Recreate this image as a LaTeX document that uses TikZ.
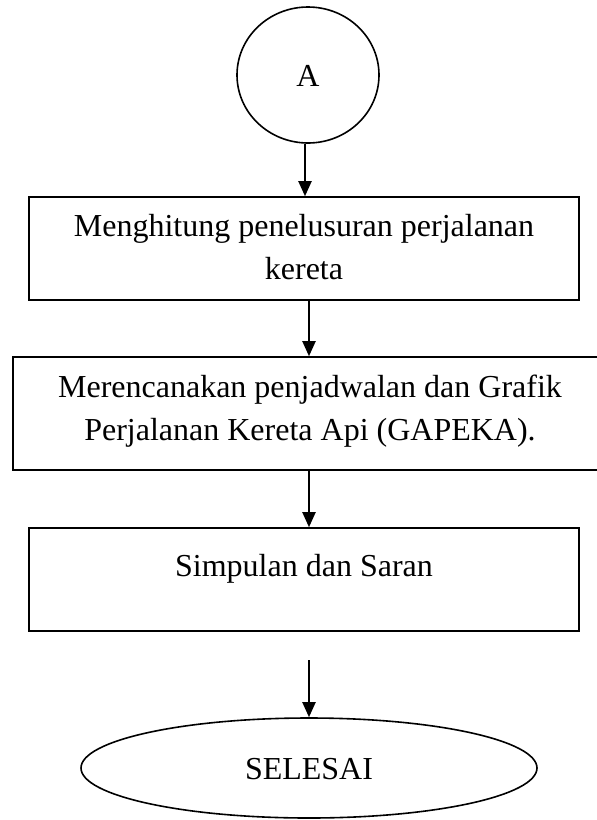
\documentclass[tikz,border=0pt]{standalone}
\usepackage{fontspec}
\setmainfont{Liberation Serif}
\usetikzlibrary{shapes.geometric,arrows.meta}
\begin{document}
\begin{tikzpicture}[x=1pt,y=-1pt,
  shapeline/.style={draw=black,line width=1.6pt},
  boxnode/.style={shapeline,rectangle,inner sep=0pt},
  ovalnode/.style={shapeline,ellipse,inner sep=0pt},
  txt/.style={font=\fontsize{32}{40}\selectfont,inner sep=0pt,anchor=base},
  arr/.style={line width=2pt,-{Triangle[width=13pt,length=15pt]}}]
\useasboundingbox (0,0) rectangle (597,820);
% start connector
\node[ovalnode,minimum width=142pt,minimum height=136pt] (A) at (308,75) {};
\node[txt] (tA) at (308,86) {A};
% box 1
\node[boxnode,minimum width=550pt,minimum height=103pt] (b1) at (304,248.5) {};
\node[txt] (t1a) at (304,236) {Menghitung penelusuran perjalanan};
\node[txt] (t1b) at (304,279) {kereta};
% box 2
\node[boxnode,minimum width=590pt,minimum height=113pt] (b2) at (308,413.5) {};
\node[txt] (t2a) at (310,397) {Merencanakan penjadwalan dan Grafik};
\node[txt] (t2b) at (310,440) {Perjalanan Kereta Api (GAPEKA).};
% box 3
\node[boxnode,minimum width=550pt,minimum height=103pt] (b3) at (304,579.5) {};
\node[txt] (t3) at (304,576) {Simpulan dan Saran};
% end
\node[ovalnode,minimum width=456pt,minimum height=100pt] (E) at (309,768) {};
\node[txt] (tE) at (309,779) {SELESAI};
% connectors
\draw[arr] ([xshift=-3pt]A.south) -- ([xshift=-3pt]A.south |- b1.north);
\coordinate (c2) at (309,300);
\draw[arr] (c2 |- b1.south) -- (c2 |- b2.north);
\draw[arr] (c2 |- b2.south) -- (c2 |- b3.north);
\coordinate (c4) at (309,660);
\draw[arr] (c4) -- (c4 |- E.north);
\end{tikzpicture}
\end{document}
